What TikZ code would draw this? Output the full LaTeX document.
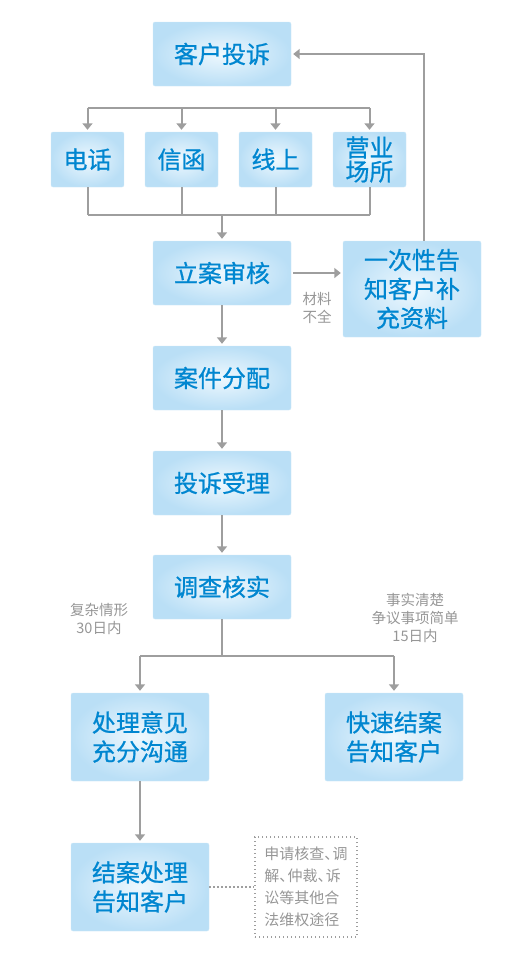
\documentclass[tikz,border=0pt]{standalone}
\usepackage{fontspec}
\newfontfamily\cjk{Noto Sans CJK SC}
\newfontfamily\cjkbox[FakeBold=0.8]{Noto Sans CJK SC}
\usetikzlibrary{arrows.meta}
\definecolor{boxblue}{RGB}{0,134,208}
\definecolor{boxinner}{RGB}{238,248,254}
\definecolor{boxouter}{RGB}{186,223,246}
\definecolor{boxedge}{RGB}{205,232,248}
\definecolor{linegray}{RGB}{158,158,158}
\definecolor{notegray}{RGB}{150,150,150}
\newcommand\dun{\makebox[0.55em][l]{、}}

\begin{document}
\begin{tikzpicture}[x=1pt, y=-1pt,
  box/.style={rectangle, rounded corners=2pt, draw=boxedge, shading=radial,
              inner color=boxinner, outer color=boxouter,
              minimum width=138pt, minimum height=64pt, inner sep=0pt,
              align=center, text=boxblue, font=\cjkbox\fontsize{24}{29}\selectfont},
  small/.style={box, minimum width=73pt, minimum height=55pt},
  note/.style={align=center, text=notegray, font=\cjk\fontsize{14.5}{18}\selectfont},
  line/.style={line width=2pt, linegray},
  arrow/.style={-{Triangle[width=10pt,length=6.5pt]}, line width=2pt, linegray, shorten >=2pt},
  dots/.style={line width=1.4pt, linegray, dash pattern=on 1.4pt off 2.6pt}
]
  \useasboundingbox (0,0) rectangle (525,967);

  \node[box] (complain) at (222,54) {客户投诉};
  \node[small] (phone)  at (87.5,159.5)  {电话};
  \node[small] (letter) at (181.5,159.5) {信函};
  \node[small] (online) at (275.5,159.5) {线上};
  \node[small, font=\cjkbox\fontsize{24}{24}\selectfont] (site) at (369.5,159.5) {营业\\场所};
  \node[box] (audit) at (222,273) {立案审核};
  \node[box, minimum height=96pt] (supply) at (412,289) {一次性告\\知客户补\\充资料};
  \node[box] (assign) at (222,378) {案件分配};
  \node[box] (accept) at (222,483) {投诉受理};
  \node[box] (check) at (222,587) {调查核实};
  \node[box, minimum height=88pt] (handle) at (140,737) {处理意见\\充分沟通};
  \node[box, minimum height=88pt] (quick) at (394,737) {快速结案\\告知客户};
  \node[box, minimum height=88pt] (close) at (140,887) {结案处理\\告知客户};
  \node[draw=linegray, dots, minimum width=102pt, minimum height=100pt, inner sep=0pt,
        align=left, text=notegray, font=\cjk\fontsize{15}{22}\selectfont] (other) at (306,887)
       {申请核查\dun 调\\解\dun 仲裁\dun 诉\\讼等其他合\\法维权途径};

  \coordinate (top) at (222,108);
  \coordinate (merge) at (222,215);
  \coordinate (split) at (222,656);

  \draw[line] (phone.north |- top) -- (site.north |- top);
  \foreach \ch in {phone,letter,online,site}
    \draw[arrow] (\ch.north |- top) -- (\ch.north);
  \foreach \ch in {phone,letter,online,site}
    \draw[line] (\ch.south) -- (\ch.south |- merge);
  \draw[line] (phone.south |- merge) -- (site.south |- merge);
  \draw[arrow] (merge) -- (audit.north);

  \draw[arrow] ([xshift=2pt]audit.east) -- (supply.west |- audit.east);
  \node[note] (lack) at (317,308) {材料\\不全};
  \draw[arrow] ([xshift=12pt]supply.north) |- (complain.east);

  \draw[arrow] (audit) -- (assign);
  \draw[arrow] (assign) -- (accept);
  \draw[arrow] (accept) -- (check);

  \draw[line] (check.south) -- (split);
  \draw[line] (handle.north |- split) -- (quick.north |- split);
  \draw[arrow] (handle.north |- split) -- (handle.north);
  \draw[arrow] (quick.north |- split) -- (quick.north);
  \node[note] (complex) at (99,619) {复杂情形\\30日内};
  \node[note] (simple) at (415,618) {事实清楚\\争议事项简单\\15日内};

  \draw[arrow] (handle) -- (close);
  \draw[dots] (close.east) -- (other.west);
\end{tikzpicture}
\end{document}
